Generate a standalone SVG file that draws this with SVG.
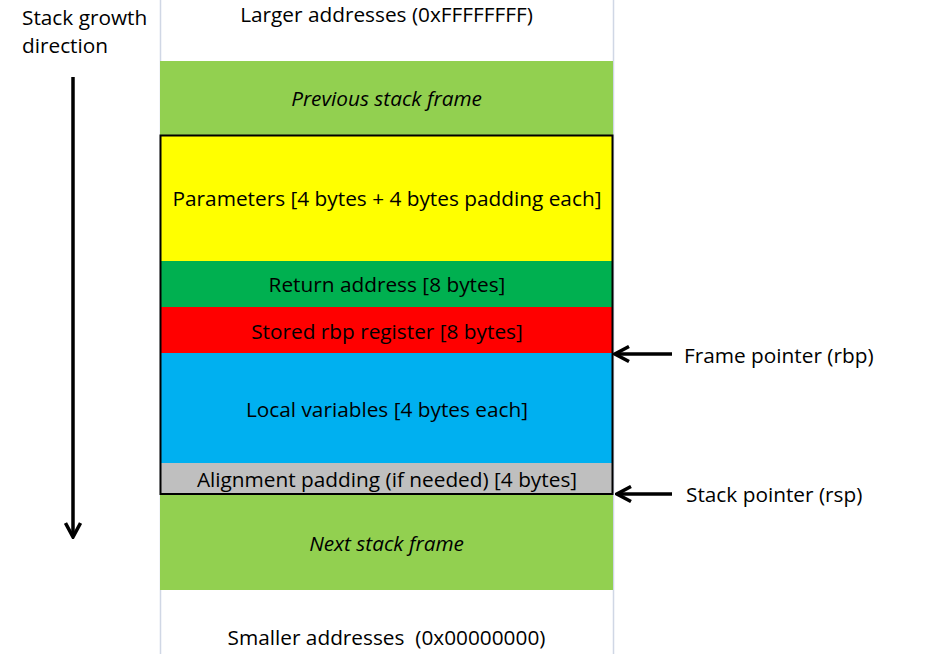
<svg xmlns="http://www.w3.org/2000/svg" width="929" height="654" viewBox="0 0 929 654">
<defs>
<style>
text{font-family:"Open Sans","Noto Sans","Liberation Sans",sans-serif;font-size:20.8px;fill:#000}
.c{text-anchor:middle}
.i{font-style:italic}
.guide{stroke:#D0D7E5;stroke-width:1.5}
.arr{stroke:#000;stroke-width:3.5;fill:none}
</style>
<marker id="head" viewBox="0 0 18 18" refX="16" refY="9" markerWidth="18" markerHeight="18" markerUnits="userSpaceOnUse" orient="auto">
<path d="M2,1.5 L16,9 L2,16.5" fill="none" stroke="#000" stroke-width="3.5"/>
</marker>
</defs>
<rect width="929" height="654" fill="#fff"/>
<line class="guide" x1="160.5" y1="0" x2="160.5" y2="654"/>
<line class="guide" x1="613.5" y1="0" x2="613.5" y2="654"/>
<text x="22" y="25">Stack growth</text>
<text x="22" y="53">direction</text>
<text class="c" x="386.5" y="22">Larger addresses (0xFFFFFFFF)</text>
<g id="prev"><rect x="160" y="61" width="453" height="74" fill="#92D050"/><text class="c i" x="386.5" y="106">Previous stack frame</text></g>
<g id="params"><rect x="160" y="135" width="453" height="126" fill="#FFFF00"/><text class="c" x="387" y="206">Parameters [4 bytes + 4 bytes padding each]</text></g>
<g id="ret"><rect x="160" y="261" width="453" height="46" fill="#00B050"/><text class="c" x="387" y="292">Return address [8 bytes]</text></g>
<g id="rbp"><rect x="160" y="307" width="453" height="46" fill="#FF0000"/><text class="c" x="387" y="339">Stored rbp register [8 bytes]</text></g>
<g id="locals"><rect x="160" y="353" width="453" height="110" fill="#00B0F0"/><text class="c" x="387" y="417">Local variables [4 bytes each]</text></g>
<g id="align"><rect x="160" y="463" width="453" height="31" fill="#BFBFBF"/><text class="c" x="387" y="487">Alignment padding (if needed) [4 bytes]</text></g>
<rect x="160.5" y="135.5" width="452" height="358.5" fill="none" stroke="#000" stroke-width="2"/>
<g id="next"><rect x="160" y="495" width="453" height="95" fill="#92D050"/><text class="c i" x="386.5" y="551">Next stack frame</text></g>
<text class="c" x="386.5" y="645" xml:space="preserve">Smaller addresses  (0x00000000)</text>
<g id="connectors">
<line class="arr" x1="73" y1="77" x2="73" y2="537" marker-end="url(#head)"/>
<line class="arr" x1="672" y1="354" x2="615" y2="354" marker-end="url(#head)"/>
<line class="arr" x1="672" y1="494" x2="617" y2="494" marker-end="url(#head)"/>
</g>
<text x="684" y="363">Frame pointer (rbp)</text>
<text x="686" y="502">Stack pointer (rsp)</text>
</svg>
